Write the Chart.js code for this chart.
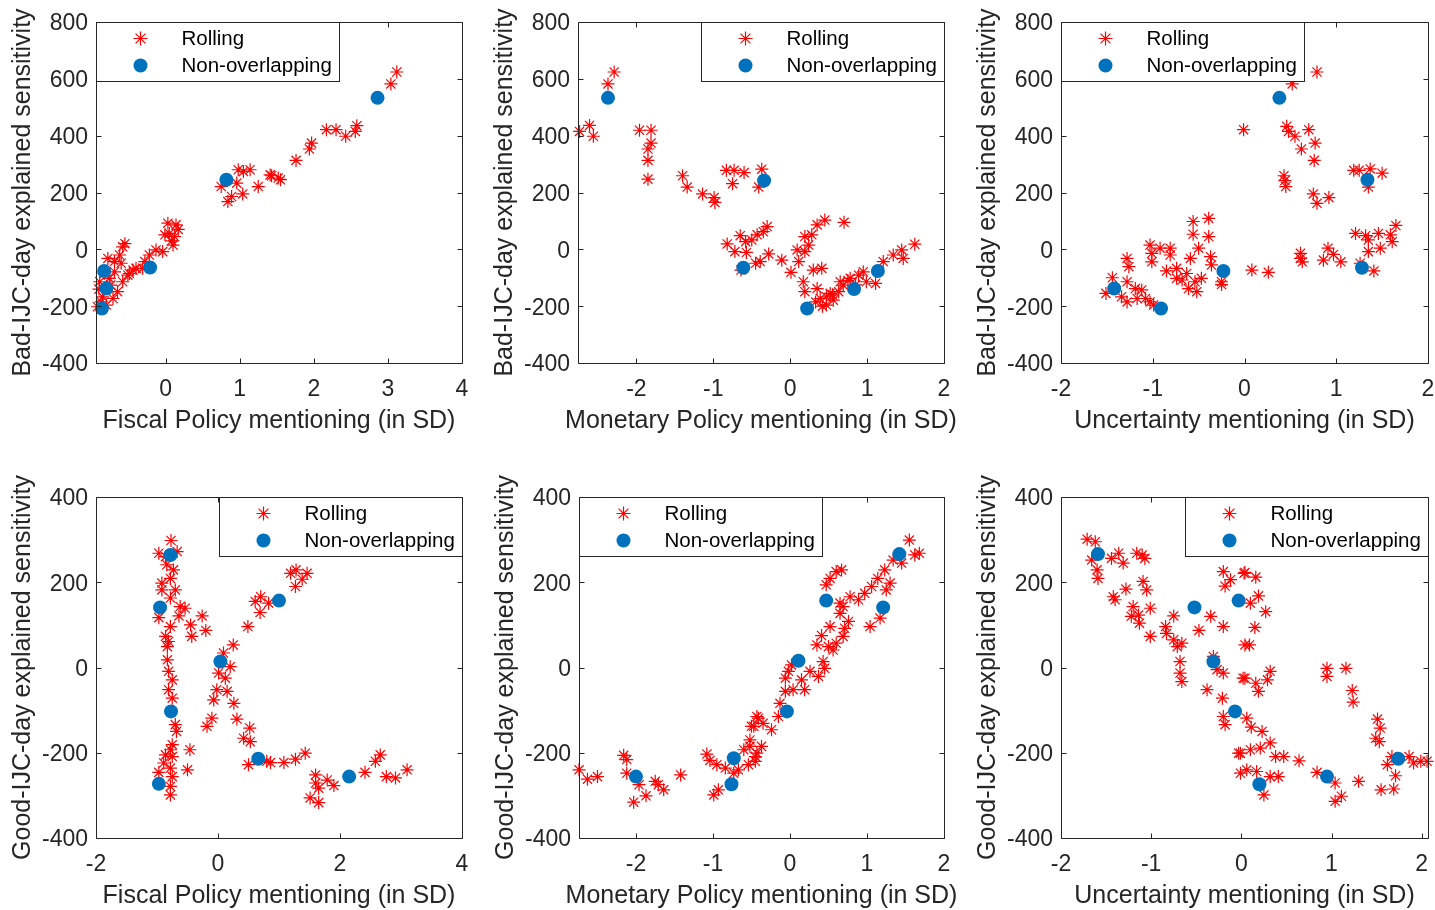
<!DOCTYPE html>
<html>
<head>
<meta charset="utf-8">
<script src="https://cdn.jsdelivr.net/npm/chart.js@4.4.0/dist/chart.umd.min.js"></script>
<style>
body { margin: 0; background: #fff; width: 1435px; height: 910px; overflow: hidden; position: relative; }
canvas { position: absolute; }
</style>
</head>
<body>
<canvas id="c1"></canvas>
<canvas id="c2"></canvas>
<canvas id="c3"></canvas>
<canvas id="c4"></canvas>
<canvas id="c5"></canvas>
<canvas id="c6"></canvas>
<script>
// tick labels
var ticks_bad = [-400, -200, 0, 200, 400, 600, 800];
var ticks_good = [-400, -200, 0, 200, 400];
var ticks_fiscal_top = [0, 1, 2, 3, 4];
var ticks_fiscal_bottom = [-2, 0, 2, 4];
var ticks_monetary = [-2, -1, 0, 1, 2];
var ticks_uncertainty = [-2, -1, 0, 1, 2];

var series_names = ["Rolling", "Non-overlapping"];

// [x, y] pairs
var fiscal_bad_rolling = [
        [0.75,221],[0.84,168],[0.89,186],[0.96,233],[0.98,280],[1.05,274],[1.14,280],[1.04,195],[1.25,221],[1.41,262],
        [1.52,251],[1.43,259],[1.55,245],[1.76,313],[1.94,353],[1.97,374],[2.17,421],[2.30,421],[2.43,398],[2.56,415],
        [2.58,435],[3.04,582],[3.12,624],
        [0.03,92],[0.14,86],[0.05,56],[0.12,45],[-0.01,51],[0.10,15],[-0.04,-8],[-0.13,-2],[-0.22,-20],[-0.28,-43],
        [-0.31,-67],[-0.44,-73],[-0.49,-85],[-0.58,9],[-0.62,-20],[-0.69,-43],[-0.78,-32],[-0.76,-102],[-0.89,-114],
        [-0.65,-149],[-0.71,-173],[-0.85,-167],[-0.92,-202],[-0.58,-114],[-0.51,-91],[-0.40,-67],[-0.60,-49],[-0.69,-79],
        [-0.83,-85],[-0.74,-126],[-0.87,-185],[-0.80,-196],[0.17,70],[0.08,30],[-0.55,20],[-0.90,-140]
];
var fiscal_bad_nonoverlap = [[0.82,245],[-0.83,-76],[-0.80,-138],[-0.86,-208],[-0.21,-64],[2.86,533]];

var monetary_bad_rolling = [
        [-2.29,624],[-2.37,582],[-2.74,415],[-2.61,436],[-2.56,398],[-1.96,419],[-1.81,419],[-1.81,374],[-1.85,353],
        [-1.85,313],[-1.85,247],[-1.40,259],[-1.34,219],[-1.14,195],[-0.99,182],[-0.98,165],[-0.83,278],[-0.73,278],
        [-0.60,270],[-0.75,231],[-0.41,219],[-0.82,19],[-0.72,-8],[-0.65,48],[-0.57,-11],[-0.58,27],[-0.50,33],
        [-0.43,51],[-0.64,-73],[-0.45,-49],[-0.37,282],[-0.35,62],[-0.30,80],[-0.39,-43],[-0.28,-16],[-0.11,-38],
        [0.01,-81],[0.09,-2],[0.11,-43],[0.19,-8],[0.24,15],[0.19,45],[0.28,51],[0.35,86],[0.45,103],[0.70,95],
        [0.30,-73],[0.41,-67],[0.17,-114],[0.19,-149],[0.35,-138],[0.39,-173],[0.47,-196],[0.47,-167],[0.56,-179],
        [0.63,-149],[0.69,-126],[0.78,-102],[0.89,-91],[0.95,-79],[0.99,-114],[1.11,-120],[1.21,-43],[1.34,-20],
        [1.45,-2],[1.47,-32],[1.62,18],[0.65,-114],[0.52,-155],[0.33,-185],[0.42,-200],[0.55,-160],[0.75,-110],[0.85,-125]
];
var monetary_bad_nonoverlap = [[-2.37,533],[-0.61,-65],[-0.34,242],[0.22,-208],[0.83,-140],[1.14,-76]];

var uncertainty_bad_rolling = [
        [-0.01,421],[-1.51,-155],[-1.44,-100],[-1.28,-32],[-1.26,-61],[-1.28,-114],[-1.34,-167],[-1.28,-185],[-1.19,-138],
        [-1.12,-143],[-1.17,-173],[-1.08,-173],[-1.03,-185],[-0.99,-196],[-1.03,15],[-1.01,-14],[-1.01,-44],[-0.92,4],
        [-0.81,4],[-0.81,-20],[-0.85,-76],[-0.74,-67],[-0.74,-102],[-0.68,-108],[-0.63,-85],[-0.59,-32],[-0.50,4],
        [-0.56,98],[-0.56,53],[-0.39,109],[-0.39,45],[-0.37,-26],[-0.36,-55],[-0.61,-138],[-0.52,-149],[-0.54,-114],
        [-0.47,-102],[-0.25,-114],[-0.25,-124],
        [0.08,-73],[0.26,-81],[0.46,433],[0.48,415],[0.55,398],[0.52,582],[0.79,624],[0.70,421],[0.77,374],[0.62,353],
        [0.76,313],[0.43,259],[0.44,242],[0.45,221],[0.75,195],[0.79,162],[0.92,182],[1.19,278],[1.25,278],[1.37,283],
        [1.50,268],[1.35,219],[0.61,-14],[0.61,-32],[0.63,-44],[0.86,-38],[0.91,4],[0.97,-18],[1.05,-44],[1.21,56],
        [1.32,48],[1.35,33],[1.46,56],[1.59,51],[1.61,27],[1.65,84],[1.35,-8],[1.48,4],[1.41,-76],[1.26,-49]
];
var uncertainty_bad_nonoverlap = [[-1.42,-138],[-0.91,-208],[-0.23,-76],[0.38,533],[1.34,245],[1.28,-65]];

var fiscal_good_rolling = [
        [-0.77,298],[-0.97,268],[-0.86,260],[-0.67,272],[-0.84,241],[-0.73,229],[-0.78,209],[-0.92,198],[-0.92,182],
        [-0.70,182],[-0.78,163],[-0.62,143],[-0.54,139],[-0.64,121],[-0.97,117],[-0.26,121],[-0.45,100],[-0.20,87],
        [-0.43,73],[-0.78,96],[-0.86,73],[-0.81,61],[-0.83,49],[-0.83,18],[-0.81,-9],[-0.75,-29],[-0.81,-52],[-0.75,-72],
        [-0.70,-134],[-0.68,-150],[-0.75,-181],[-0.86,-205],[-0.75,-209],[-0.89,-224],[-0.78,-236],[-0.97,-246],
        [-0.75,-256],[-0.78,-279],[-0.78,-299],[-0.46,-193],[-0.50,-240],[-0.78,-193],
        [0.49,96],[0.25,53],[0.09,34],[0.20,2],[0.01,-13],[0.12,-25],[-0.02,-52],[0.15,-56],[-0.07,-76],[0.26,-84],
        [-0.10,-119],[-0.18,-138],[0.31,-121],[0.52,-142],[0.42,-166],[0.53,-174],[0.50,-228],[0.80,-220],[0.61,155],
        [0.70,166],[0.69,129],[0.83,151],
        [1.19,221],[1.28,229],[1.46,221],[1.27,190],[1.38,207],[0.86,-223],[1.08,-223],[1.27,-215],[1.43,-201],
        [1.60,-252],[1.60,-271],[1.65,-283],[1.51,-306],[1.65,-317],[1.79,-264],[1.90,-277],[2.41,-246],[2.58,-220],
        [2.66,-205],[2.76,-256],[2.91,-259],[3.10,-240]
];
var fiscal_good_nonoverlap = [[-0.78,264],[-0.95,141],[0.04,14],[-0.77,-103],[-0.97,-273],[0.66,-214],[1.0,157],[2.15,-256]];

var monetary_good_rolling = [
        [-2.74,-240],[-2.63,-262],[-2.50,-256],[-2.16,-206],[-2.12,-216],[-2.12,-248],[-1.96,-275],[-2.03,-316],
        [-1.87,-301],[-1.75,-267],[-1.71,-275],[-1.64,-287],[-1.42,-252],[-1.08,-203],[-1.04,-218],[-0.95,-228],
        [-0.99,-299],[-0.93,-287],[-0.84,-236],[-0.73,-248],[-0.67,-240],[-0.60,-193],[-0.54,-228],[-0.52,-170],
        [-0.47,-138],[-0.43,-115],[-0.45,-209],
        [-0.50,-138],[-0.41,-119],[-0.35,-131],[-0.24,-146],[-0.52,-185],[-0.43,-201],[-0.37,-185],[-0.45,-220],
        [-0.15,-115],[-0.13,-84],[-0.06,-56],[0.04,-52],[-0.06,-25],[-0.02,-9],[0.02,6],[0.15,-29],[0.19,-52],
        [0.26,-9],[0.37,-21],[0.45,-2],[0.43,14],[0.35,53],[0.41,75],[0.52,96],[0.50,49],[0.56,41],[0.60,57],
        [0.69,73],[0.71,92],[0.76,108],[0.65,127],[0.69,143],[0.78,166],[0.89,159],[0.97,174],[1.04,96],[1.17,116],
        [1.06,190],[1.14,209],[1.23,229],[1.30,198],[1.25,182],[1.34,252],[1.55,299],[1.62,264],[1.68,268],[1.45,245],
        [0.47,194],[0.52,209],[0.60,225],[0.67,229],[0.65,151]
];
var monetary_good_nonoverlap = [[-2.0,-256],[-0.73,-213],[-0.76,-274],[-0.04,-103],[0.11,16],[0.47,157],[1.21,141],[1.42,266]];

var uncertainty_good_rolling = [
        [-1.71,301],[-1.62,295],[-1.66,252],[-1.60,229],[-1.59,209],[-1.44,256],[-1.36,268],[-1.31,245],[-1.16,268],
        [-1.10,264],[-1.07,256],[-1.09,202],[-1.05,182],[-1.28,184],[-1.42,166],[-1.40,159],[-1.20,143],[-1.22,120],
        [-1.14,123],[-1.13,104],[-1.01,139],[-1.01,73],[-0.84,96],[-0.83,80],[-0.75,65],[-0.71,49],[-0.66,57],
        [-0.68,14],[-0.68,-13],[-0.66,-33],[-0.75,121],[-0.47,87],[-0.34,120],[-0.20,96],[-0.20,225],[-0.12,206],
        [-0.18,191],[0.03,221],[-0.31,26],[-0.27,-5],[-0.20,-13],[-0.38,-52],[-0.21,-72],[-0.20,-115],[-0.18,-134],
        [-0.03,-201],[-0.01,-248],[0.04,53],[0.02,-25],
        [0.04,223],[0.16,212],[0.10,151],[0.19,168],[0.27,131],[0.15,94],[0.09,53],[0.04,-25],[0.16,-37],[0.19,-56],
        [0.32,-9],[0.29,-29],[0.06,-119],[0.11,-140],[0.23,-150],[0.32,-177],[-0.01,-201],[0.10,-193],[0.21,-189],
        [0.06,-240],[0.17,-244],[0.32,-256],[0.41,-256],[0.38,-209],[0.47,-209],[0.64,-219],[0.25,-299],[0.84,-246],
        [1.04,-271],[1.04,-314],[1.11,-302],[1.30,-267],[0.95,-2],[0.95,-21],[1.16,-2],[1.23,-54],[1.24,-81],
        [1.51,-121],[1.54,-142],[1.49,-166],[1.53,-174],[1.55,-287],[1.69,-285],[1.62,-228],[1.71,-254],[1.67,-209],
        [1.86,-209],[1.91,-224],[1.99,-220],[2.06,-220]
];
var uncertainty_good_nonoverlap = [[-1.59,266],[-0.52,141],[-0.03,157],[-0.31,14],[-0.07,-103],[0.2,-274],[0.95,-256],[1.74,-214]];

var axis_color = "#262626";
var font_family = "'Liberation Sans', Arial, Helvetica, sans-serif";

function draw_star(ctx, x, y, r) {
        var d = r * Math.SQRT1_2;
        ctx.beginPath();
        ctx.moveTo(x - r, y); ctx.lineTo(x + r, y);
        ctx.moveTo(x, y - r); ctx.lineTo(x, y + r);
        ctx.moveTo(x - d, y - d); ctx.lineTo(x + d, y + d);
        ctx.moveTo(x - d, y + d); ctx.lineTo(x + d, y - d);
        ctx.stroke();
}

// axes box, inward ticks on all sides, x label and the boxed legend
var box_plugin = {
        id: "box_plugin",
        afterDraw: function(chart) {
                var ctx = chart.ctx;
                var a = chart.chartArea;
                var xs = chart.scales.x, ys = chart.scales.y;
                var opt = chart.options.plugins.box_plugin;
                var l = Math.round(a.left) + 0.5, r = Math.round(a.right) + 0.5;
                var t = Math.round(a.top) + 0.5, b = Math.round(a.bottom) + 0.5;
                ctx.save();
                ctx.strokeStyle = axis_color;
                ctx.lineWidth = 1;
                ctx.beginPath();
                ctx.rect(l, t, r - l, b - t);
                xs.ticks.forEach(function(tk) {
                        var px = Math.round(xs.getPixelForValue(tk.value)) + 0.5;
                        ctx.moveTo(px, b); ctx.lineTo(px, b - 5);
                        ctx.moveTo(px, t); ctx.lineTo(px, t + 5);
                });
                ys.ticks.forEach(function(tk) {
                        var py = Math.round(ys.getPixelForValue(tk.value)) + 0.5;
                        ctx.moveTo(l, py); ctx.lineTo(l + 5, py);
                        ctx.moveTo(r, py); ctx.lineTo(r - 5, py);
                });
                ctx.stroke();

                // x label, wider than the plot for the monetary panels
                ctx.fillStyle = axis_color;
                ctx.font = "25px " + font_family;
                ctx.textAlign = "center";
                ctx.textBaseline = "middle";
                ctx.fillText(opt.xlabel, (a.left + a.right) / 2, a.bottom + 58);

                var w = 243, h = 59;
                var lx = opt.side === "left" ? l : r - w;
                ctx.fillStyle = "#fff";
                ctx.fillRect(lx, t, w, h);
                ctx.strokeRect(lx, t, w, h);

                ctx.strokeStyle = "#ff0000";
                ctx.lineWidth = 1.2;
                draw_star(ctx, lx + 44, t + 16, 7);
                ctx.fillStyle = "#0072bd";
                ctx.beginPath();
                ctx.arc(lx + 44, t + 43, 7, 0, Math.PI * 2);
                ctx.fill();

                ctx.fillStyle = "#000";
                ctx.font = "20.5px " + font_family;
                ctx.textBaseline = "middle";
                ctx.textAlign = "left";
                ctx.fillText(series_names[0], lx + 85, t + 17);
                ctx.fillText(series_names[1], lx + 85, t + 44);
                ctx.restore();
        }
};

function no_label_padding(s) {
        // keep the plot box where it is, the end labels may hang over
        s.paddingLeft = 0;
        s.paddingRight = 0;
        s.paddingTop = 0;
        s.paddingBottom = 0;
}

var pad_top = 22;
var pad_right = 18;

function init_panel(p) {
        var canvas = document.getElementById(p.id);
        var plot_w = p.right - p.left, plot_h = p.bottom - p.top;
        canvas.width = plot_w + 96 + pad_right;
        canvas.height = plot_h + pad_top + 72;
        canvas.style.left = (p.left - 96) + "px";
        canvas.style.top = (p.top - pad_top) + "px";

        var tick_font = { family: font_family, size: 23 };
        var title_font = { family: font_family, size: 25 };

        new Chart(canvas, {
                type: "scatter",
                data: {
                        datasets: [{
                                label: series_names[0],
                                data: p.rolling.map(function(v) { return { x: v[0], y: v[1] }; }),
                                pointStyle: "star",
                                pointRadius: 6.5,
                                pointBorderWidth: 1.2,
                                borderColor: "#ff0000",
                                backgroundColor: "#ff0000",
                                clip: false,
                                order: 2
                        }, {
                                label: series_names[1],
                                data: p.nonoverlap.map(function(v) { return { x: v[0], y: v[1] }; }),
                                pointStyle: "circle",
                                pointRadius: 7,
                                pointBorderWidth: 0,
                                borderColor: "#0072bd",
                                backgroundColor: "#0072bd",
                                clip: false,
                                order: 1
                        }]
                },
                options: {
                        responsive: false,
                        animation: false,
                        events: [],
                        layout: { padding: { top: pad_top, right: pad_right, left: 0, bottom: 0 } },
                        plugins: {
                                legend: { display: false },
                                tooltip: { enabled: false },
                                box_plugin: { side: p.legend_side, xlabel: p.xlabel }
                        },
                        scales: {
                                x: {
                                        type: "linear",
                                        min: p.xmin,
                                        max: p.xmax,
                                        grid: { display: false, drawTicks: false },
                                        border: { display: false },
                                        ticks: { padding: 13, color: axis_color, font: tick_font, maxRotation: 0 },
                                        title: { display: false },
                                        afterBuildTicks: function(s) { s.ticks = p.xticks.map(function(v) { return { value: v }; }); },
                                        afterFit: function(s) { s.height = 72; no_label_padding(s); }
                                },
                                y: {
                                        type: "linear",
                                        min: p.ymin,
                                        max: p.ymax,
                                        grid: { display: false, drawTicks: false },
                                        border: { display: false },
                                        ticks: { padding: 8, labelOffset: 2, color: axis_color, font: tick_font },
                                        title: { display: true, text: p.ylabel, color: axis_color, font: title_font, padding: { top: 8, bottom: 0 } },
                                        afterBuildTicks: function(s) { s.ticks = p.yticks.map(function(v) { return { value: v }; }); },
                                        afterFit: function(s) { s.width = 96; no_label_padding(s); }
                                }
                        }
                },
                plugins: [box_plugin]
        });
}

var ylabel_bad = "Bad-IJC-day explained sensitivity";
var ylabel_good = "Good-IJC-day explained sensitivity";

var panels = [
        { id: "c1", left: 96, right: 462, top: 22, bottom: 363, xmin: -0.94, xmax: 4, ymin: -400, ymax: 800,
          xticks: ticks_fiscal_top, yticks: ticks_bad, xlabel: "Fiscal Policy mentioning (in SD)", ylabel: ylabel_bad,
          rolling: fiscal_bad_rolling, nonoverlap: fiscal_bad_nonoverlap, legend_side: "left" },
        { id: "c2", left: 578, right: 944, top: 22, bottom: 363, xmin: -2.76, xmax: 2, ymin: -400, ymax: 800,
          xticks: ticks_monetary, yticks: ticks_bad, xlabel: "Monetary Policy mentioning (in SD)", ylabel: ylabel_bad,
          rolling: monetary_bad_rolling, nonoverlap: monetary_bad_nonoverlap, legend_side: "right" },
        { id: "c3", left: 1061, right: 1428, top: 22, bottom: 363, xmin: -2, xmax: 2, ymin: -400, ymax: 800,
          xticks: ticks_uncertainty, yticks: ticks_bad, xlabel: "Uncertainty mentioning (in SD)", ylabel: ylabel_bad,
          rolling: uncertainty_bad_rolling, nonoverlap: uncertainty_bad_nonoverlap, legend_side: "left" },
        { id: "c4", left: 96, right: 462, top: 497, bottom: 838, xmin: -2, xmax: 4, ymin: -400, ymax: 400,
          xticks: ticks_fiscal_bottom, yticks: ticks_good, xlabel: "Fiscal Policy mentioning (in SD)", ylabel: ylabel_good,
          rolling: fiscal_good_rolling, nonoverlap: fiscal_good_nonoverlap, legend_side: "right" },
        { id: "c5", left: 579, right: 944, top: 497, bottom: 838, xmin: -2.74, xmax: 2, ymin: -400, ymax: 400,
          xticks: ticks_monetary, yticks: ticks_good, xlabel: "Monetary Policy mentioning (in SD)", ylabel: ylabel_good,
          rolling: monetary_good_rolling, nonoverlap: monetary_good_nonoverlap, legend_side: "left" },
        { id: "c6", left: 1061, right: 1428, top: 497, bottom: 838, xmin: -2, xmax: 2.07, ymin: -400, ymax: 400,
          xticks: ticks_uncertainty, yticks: ticks_good, xlabel: "Uncertainty mentioning (in SD)", ylabel: ylabel_good,
          rolling: uncertainty_good_rolling, nonoverlap: uncertainty_good_nonoverlap, legend_side: "right" }
];

panels.forEach(init_panel);
</script>
</body>
</html>
